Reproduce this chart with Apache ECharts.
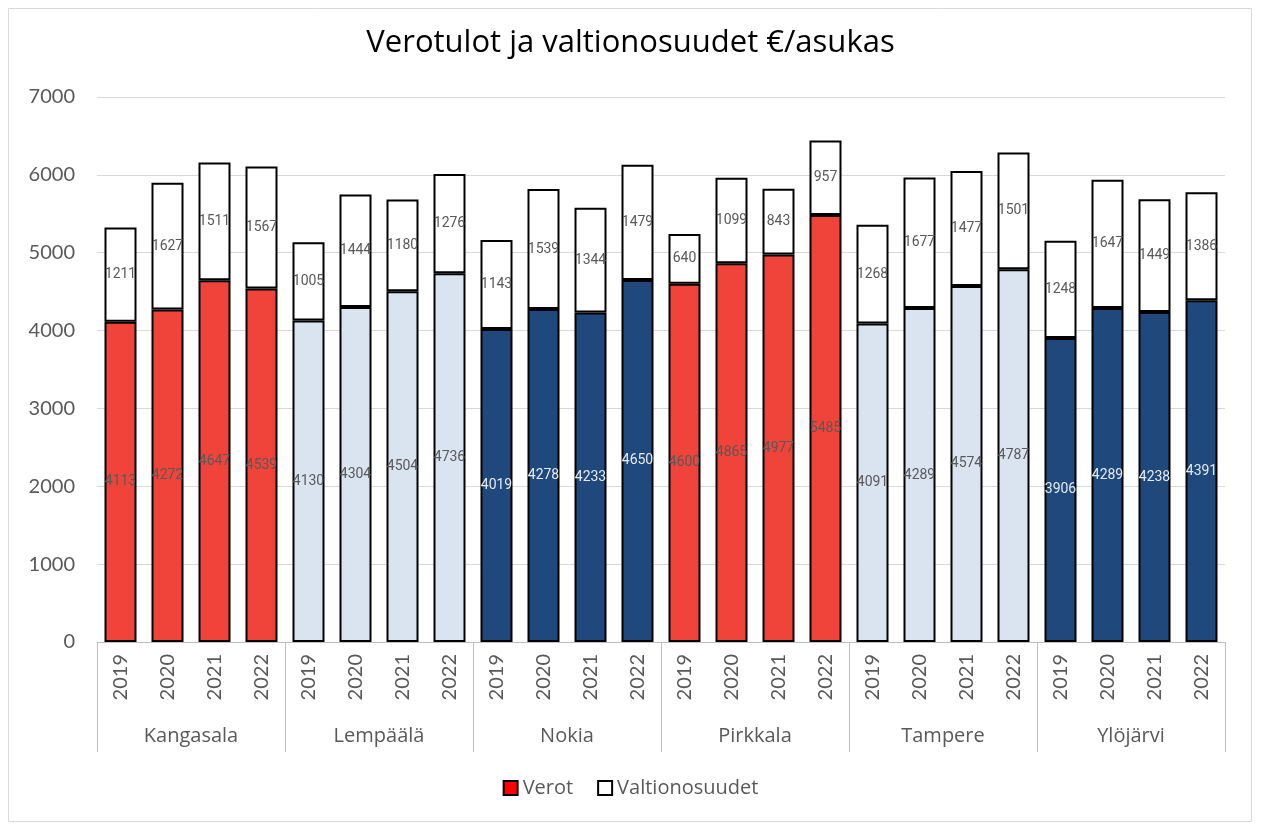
<!DOCTYPE html>
<html>
<head>
<meta charset="utf-8">
<script src="https://cdn.jsdelivr.net/npm/echarts@6/dist/echarts.min.js"></script>
<style>
  html, body { margin: 0; padding: 0; background: #fff; }
  #chart { width: 1261px; height: 825px; }
</style>
</head>
<body>
<div id="chart"></div>
<script>
const towns = ['Kangasala', 'Lempäälä', 'Nokia', 'Pirkkala', 'Tampere', 'Ylöjärvi'];
const years = ['2019', '2020', '2021', '2022'];
const townColors = ['#F0443A', '#DAE3F0', '#1F497D', '#F0443A', '#DAE3F0', '#1F497D'];
const townLabelColors = ['#595959', '#595959', '#E6EAF2', '#595959', '#595959', '#E6EAF2'];

const verot = [
    4113, 4272, 4647, 4539,
    4130, 4304, 4504, 4736,
    4019, 4278, 4233, 4650,
    4600, 4865, 4977, 5485,
    4091, 4289, 4574, 4787,
    3906, 4289, 4238, 4391
];
const valtionosuudet = [
    1211, 1627, 1511, 1567,
    1005, 1444, 1180, 1276,
    1143, 1539, 1344, 1479,
    640, 1099, 843, 957,
    1268, 1677, 1477, 1501,
    1248, 1647, 1449, 1386
];

const font = 'Lato, "Noto Sans", sans-serif';
const wideFont = '"Open Sans", sans-serif';
const grey = '#595959';

// vuodet kaikille kunnille peräkkäin
const yearCats = [];
towns.forEach(() => years.forEach(y => yearCats.push(y)));

const labelStyle = {
    show: true,
    position: 'inside',
    color: grey,
    fontSize: 14,
    fontFamily: 'Roboto, sans-serif',
    textBorderWidth: 0
};

const myChart = echarts.init(document.getElementById('chart'));
const option = {
    title: {
        text: 'Verotulot ja valtionosuudet €/asukas',
        left: 'center',
        top: 23,
        textStyle: {
            color: '#000',
            fontSize: 31,
            fontWeight: 'normal',
            fontFamily: wideFont
        }
    },
    graphic: [{
        type: 'rect',
        shape: { x: 8.5, y: 8.5, width: 1243, height: 813 },
        style: { fill: 'none', stroke: '#D9D9D9', lineWidth: 1 },
        silent: true
    }],
    legend: {
        bottom: 22,
        left: 'center',
        itemWidth: 14,
        itemHeight: 14,
        itemGap: 24,
        itemTextGap: 4,
        icon: 'rect',
        textStyle: { color: grey, fontSize: 20, fontFamily: wideFont },
        data: [
            { name: 'Verot', itemStyle: { color: '#FF0000', borderColor: '#000', borderWidth: 2 } },
            { name: 'Valtionosuudet', itemStyle: { color: '#fff', borderColor: '#000', borderWidth: 2 } }
        ]
    },
    grid: {
        left: 97,
        right: 36,
        top: 97,
        bottom: 183
    },
    xAxis: [
        {
            type: 'category',
            data: yearCats,
            axisLine: { lineStyle: { color: '#BFBFBF', width: 1 } },
            axisTick: { show: false },
            axisLabel: {
                interval: 0,
                rotate: 90,
                margin: 12,
                color: grey,
                fontSize: 20,
                fontFamily: font
            }
        },
        {
            type: 'category',
            data: towns,
            position: 'bottom',
            axisLine: { show: false },
            axisTick: {
                show: true,
                interval: 0,
                length: 110,
                lineStyle: { color: '#BFBFBF', width: 1 }
            },
            axisLabel: {
                interval: 0,
                margin: 84,
                color: grey,
                fontSize: 20,
                fontFamily: wideFont
            }
        }
    ],
    yAxis: {
        type: 'value',
        min: 0,
        max: 7000,
        interval: 1000,
        axisLine: { show: false },
        axisTick: { show: false },
        axisLabel: {
            color: grey,
            fontSize: 20,
            fontFamily: font,
            margin: 22,
            formatter: v => String(v)
        },
        splitLine: { lineStyle: { color: '#D9D9D9', width: 1 } }
    },
    series: [
        {
            name: 'Verot',
            type: 'bar',
            stack: 'total',
            barWidth: 32,
            itemStyle: { color: '#FF0000', borderColor: '#000', borderWidth: 2 },
            label: labelStyle,
            data: verot.map((v, i) => ({
                value: v,
                itemStyle: { color: townColors[Math.floor(i / 4)] },
                label: { color: townLabelColors[Math.floor(i / 4)] }
            }))
        },
        {
            name: 'Valtionosuudet',
            type: 'bar',
            stack: 'total',
            barWidth: 32,
            itemStyle: { color: '#fff', borderColor: '#000', borderWidth: 2 },
            label: labelStyle,
            data: valtionosuudet
        }
    ]
};
myChart.setOption(option);
</script>
</body>
</html>
